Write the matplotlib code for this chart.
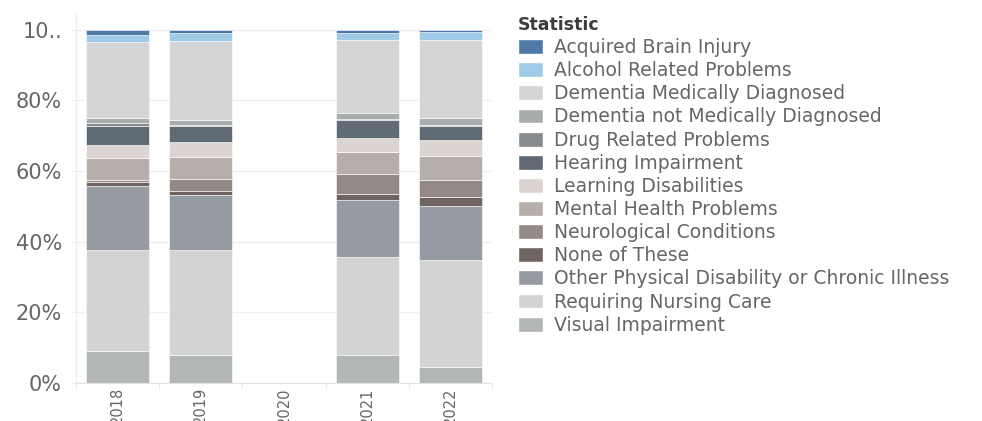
"""
Stacked percent-of-total bars: client statistics by year
"""

import numpy as np
import pandas as pd
import matplotlib.pyplot as plt
from matplotlib.patches import Patch

years = ['2018', '2019', '2020', '2021', '2022']

statistics = [
    'Acquired Brain Injury',
    'Alcohol Related Problems',
    'Dementia Medically Diagnosed',
    'Dementia not Medically Diagnosed',
    'Drug Related Problems',
    'Hearing Impairment',
    'Learning Disabilities',
    'Mental Health Problems',
    'Neurological Conditions',
    'None of These',
    'Other Physical Disability or Chronic Illness',
    'Requiring Nursing Care',
    'Visual Impairment',
]

colors = [
    '#4e79a7', '#a0cbe8', '#d5d5d5', '#a9acac', '#878b8e', '#5f6a75', '#dcd4d2',
    '#b6aeab', '#938986', '#6f6461', '#969ba3', '#d3d3d3', '#b3b6b7',
]

# share of each statistic (%) per year, 2020 has no data
acquired_brain_injury = [1.6, 0.95, np.nan, 0.95, 0.7]
alcohol_related = [2.0, 2.3, np.nan, 1.9, 2.15]
dementia_diagnosed = [21.5, 22.4, np.nan, 20.9, 22.2]
dementia_not_diagnosed = [1.2, 1.4, np.nan, 1.6, 2.1]
drug_related = [1.05, 0.3, np.nan, 0.2, 0.2]
hearing_impairment = [5.2, 4.5, np.nan, 5.2, 4.0]
learning_disabilities = [3.7, 4.2, np.nan, 4.0, 4.6]
mental_health = [6.2, 6.3, np.nan, 6.1, 6.6]
neurological = [0.6, 3.2, np.nan, 5.6, 4.8]
none_of_these = [1.2, 1.3, np.nan, 1.8, 2.6]
other_physical = [18.0, 15.6, np.nan, 16.1, 15.3]
nursing_care = [28.7, 29.7, np.nan, 28.0, 30.4]
visual_impairment = [9.1, 7.8, np.nan, 7.8, 4.5]

df = pd.DataFrame(dict(zip(statistics, [
    acquired_brain_injury, alcohol_related, dementia_diagnosed, dementia_not_diagnosed,
    drug_related, hearing_impairment, learning_disabilities, mental_health,
    neurological, none_of_these, other_physical, nursing_care, visual_impairment,
])), index=years)
share = df.div(df.sum(axis=1), axis=0) * 100

TEXT = '#666666'
plt.rcParams['font.family'] = ['DejaVu Sans']

fig = plt.figure(figsize=(9.82, 4.21), dpi=100)
ax = fig.add_axes([76 / 982, 38 / 421, 416 / 982, 371 / 421])

x = np.arange(len(years))
bottom = np.zeros(len(years))
# stack from the last statistic (bottom) up to the first (top)
for name, color in reversed(list(zip(statistics, colors))):
    vals = share[name].fillna(0).values
    ax.bar(x, vals, width=0.76, bottom=bottom, color=color,
           edgecolor='white', linewidth=0.4, zorder=2)
    bottom += vals

ax.set_xlim(-0.5, len(years) - 0.5)
ax.set_ylim(0, 105)

ax.set_yticks([0, 20, 40, 60, 80, 100])
ax.set_yticklabels(['0%', '20%', '40%', '60%', '80%', '10..'])
ax.yaxis.grid(True, color='#efefef', linewidth=1, zorder=0)
ax.tick_params(axis='y', length=4, color='#efefef', labelsize=15,
               labelcolor=TEXT, pad=6)

ax.set_xticks(x)
ax.set_xticklabels(years, rotation=90)
ax.set_xticks(np.arange(len(years) + 1) - 0.5, minor=True)
ax.tick_params(axis='x', which='major', length=0, labelsize=10.5,
               labelcolor=TEXT, pad=3)
ax.tick_params(axis='x', which='minor', length=4, color='#e6e6e6')

for side in ['top', 'right']:
    ax.spines[side].set_visible(False)
ax.spines['left'].set_color('#ececec')
ax.spines['bottom'].set_color('#e3e3e3')

handles = [Patch(facecolor=c, edgecolor='white', label=s)
           for s, c in zip(statistics, colors)]
leg = fig.legend(handles=handles, loc='upper left', bbox_to_anchor=(503 / 982, 1 - 1 / 421),
                 frameon=False, title='Statistic', fontsize=13.5,
                 handlelength=1.35, handleheight=0.85, handletextpad=0.55,
                 labelspacing=0.22, alignment='left', borderpad=0.3)
leg.get_title().set_fontweight('bold')
leg.get_title().set_fontsize(12.5)
leg.get_title().set_color('#3c3c3c')
for t in leg.get_texts():
    t.set_color(TEXT)

fig.savefig('out.png', dpi=100)
